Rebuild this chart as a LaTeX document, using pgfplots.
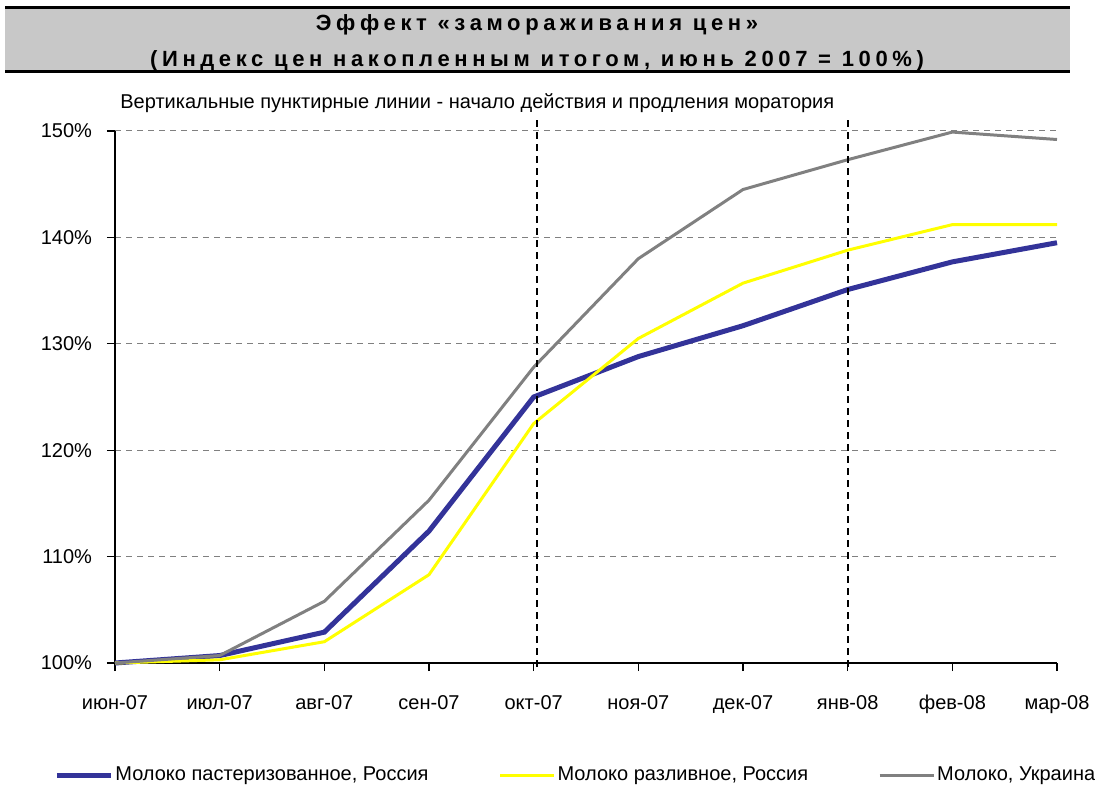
\documentclass[border=0pt]{standalone}
\usepackage{fontspec}
\setmainfont{Liberation Sans}
\newfontfamily\titlefont[LetterSpace=21]{Liberation Sans}
\usepackage{pgfplots}
\pgfplotsset{compat=1.18}

\definecolor{milkblue}{HTML}{333399}
\definecolor{milkyellow}{HTML}{FFFF00}
\definecolor{milkgray}{HTML}{808080}
\definecolor{titlegray}{HTML}{C8C8C8}

\begin{document}
\begin{tikzpicture}
\useasboundingbox (0,0) rectangle (547.5pt,393.5pt);
\clip (0,0) rectangle (547.5pt,393.5pt);
% title box
\fill[titlegray] (2.5pt,357.5pt) rectangle (535pt,389.5pt);
\draw[line width=1.5pt] (2.5pt,389.5pt) -- (535pt,389.5pt);
\draw[line width=1.5pt] (2.5pt,357.5pt) -- (535pt,357.5pt);
\node[font=\titlefont\bfseries\fontsize{11}{13}\selectfont] at (268.5pt,381pt) {Эффект «замораживания цен»};
\node[font=\titlefont\bfseries\fontsize{11}{13}\selectfont] at (268.5pt,363pt) {(Индекс цен накопленным итогом, июнь 2007 = 100\%)};
\node[anchor=west, inner sep=0pt, font=\fontsize{10}{12}\selectfont] at (60pt,342pt) {Вертикальные пунктирные линии - начало действия и продления моратория};

\begin{axis}[
  at={(57.5pt,62pt)}, anchor=south west,
  scale only axis, width=471pt, height=266pt,
  xmin=0, xmax=9, ymin=100, ymax=150,
  axis x line=bottom, axis y line=left,
  axis line style={-, line width=0.6pt},
  xtick={0,...,9},
  xticklabels={июн-07,июл-07,авг-07,сен-07,окт-07,ноя-07,дек-07,янв-08,фев-08,мар-08},
  ytick={100,110,...,150},
  yticklabel={\pgfmathprintnumber{\tick}\%},
  /pgf/number format/assume math mode=true,
  tick align=outside, major tick length=4pt,
  tick style={black, line width=0.6pt},
  ymajorgrids, grid style={gray, line width=0.5pt, dash pattern=on 3pt off 2.5pt},
  ticklabel style={font=\fontsize{10}{12}\selectfont},
  xticklabel style={yshift=-8pt, text height=7.5pt, text depth=2pt},
  yticklabel style={xshift=-4pt},
  clip=false,
  legend columns=3,
  legend style={draw=none, fill=none, at={(0,0)}, anchor=west,
    xshift=-33.5pt, yshift=-56pt, font=\fontsize{10}{12}\selectfont,
    /tikz/every even column/.append style={column sep=34pt},
    nodes={inner xsep=1pt}},
  legend image code/.code={\draw[#1] (0pt,0pt) -- (27pt,0pt);},
]
\addplot[milkblue, line width=2.5pt] coordinates {
  (0,100) (1,100.7) (2,102.9) (3,112.4) (4,125.0) (5,128.8) (6,131.7) (7,135.1) (8,137.7) (9,139.5)};
\addlegendentry{Молоко пастеризованное, Россия}
\addplot[milkyellow, line width=1.5pt] coordinates {
  (0,100) (1,100.3) (2,102.0) (3,108.3) (4,122.5) (5,130.5) (6,135.7) (7,138.8) (8,141.2) (9,141.2)};
\addlegendentry{Молоко разливное, Россия}
\addplot[milkgray, line width=1.5pt] coordinates {
  (0,100) (1,100.7) (2,105.8) (3,115.3) (4,127.8) (5,138.0) (6,144.5) (7,147.3) (8,149.9) (9,149.2)};
\addlegendentry{Молоко, Украина}
\draw[black, line width=0.9pt, dash pattern=on 3.5pt off 2.5pt] (axis cs:4.03,151) -- (axis cs:4.03,99.3);
\draw[black, line width=0.9pt, dash pattern=on 3.5pt off 2.5pt] (axis cs:7,151) -- (axis cs:7,99.3);
\end{axis}
\end{tikzpicture}
\end{document}
